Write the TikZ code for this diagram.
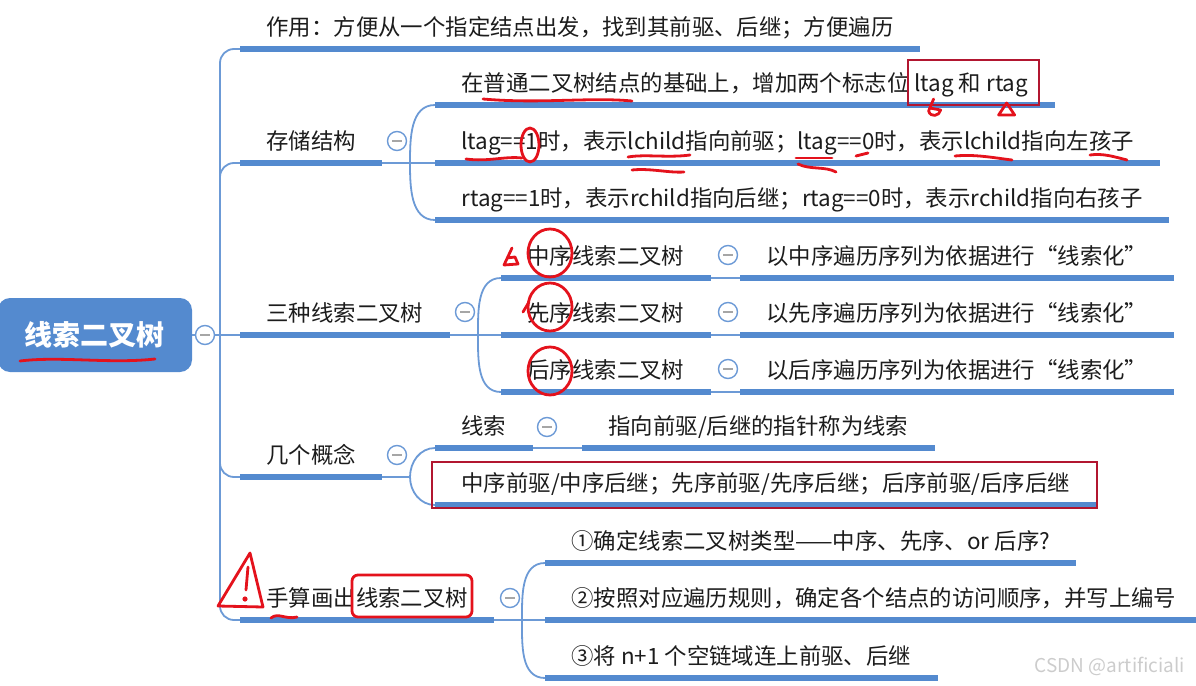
\documentclass[tikz,border=0pt]{standalone}
\usepackage{fontspec}
\setmainfont{Noto Sans CJK SC}
\usetikzlibrary{calc,positioning}
\definecolor{mmblue}{RGB}{84,138,207}
\definecolor{linkblue}{RGB}{108,154,214}
\definecolor{pen}{RGB}{228,18,28}
\definecolor{boxred}{RGB}{178,22,48}
\definecolor{txt}{RGB}{28,28,28}
\newcommand\mmsize{\fontsize{11.2pt}{14pt}\selectfont}

\begin{document}
\begin{tikzpicture}[x=0.5pt,y=-0.5pt,
  topic/.style={anchor=south west,inner xsep=13pt,inner ysep=4pt,text height=9pt,text depth=2.5pt,font=\mmsize,text=txt},
  bar/.style={mmblue,line width=3pt},
  link/.style={linkblue,line width=0.9pt},
  fold/.style={circle,draw=linkblue,line width=0.7pt,fill=white,minimum size=9.5pt,inner sep=0pt,
    path picture={\draw[gray!70,line width=0.8pt]
      ([xshift=-2.3pt]path picture bounding box.center) -- ([xshift=2.3pt]path picture bounding box.center);}},
  scrawl/.style={pen,line width=1.4pt,line cap=round,line join=round}]
  \useasboundingbox (0,0) rectangle (1196,686);

  % root and first level
  \node[fill=mmblue,rounded corners=6pt,minimum width=97pt,minimum height=37pt,text=white,
        font=\fontsize{14pt}{16pt}\selectfont\bfseries] (root) at (95,335) {线索二叉树};
  \node[fold] (c0) at (205,335) {};
  \coordinate (j0) at (220,335);
  \draw[link] (root.east) -- (c0.west);
  \draw[link] (c0.east) -- (j0);

  \node[topic] (use)   at (240,49)  {作用：方便从一个指定结点出发，找到其前驱、后继；方便遍历};
  \node[topic] (store) at (240,163) {存储结构};
  \node[topic] (kinds) at (240,335) {三种线索二叉树};
  \node[topic] (ideas) at (240,477) {几个概念};
  \node[topic] (hand)  at (240,620) {手算画出线索二叉树};
  \foreach \b in {use,store,ideas,hand}
    \draw[link,rounded corners=7pt] (j0) |- (\b.south west);
  \draw[link] (j0) -- (kinds.south west);

  \node[fold] (c1) at (397,141) {};
  \node[fold] (c2) at (465,312) {};
  \node[fold] (c3) at (397,455) {};
  \node[fold] (c4) at (510,598) {};

  % storage
  \coordinate (f1) at (410,163);
  \draw[link] (store.south east) -- (f1);
  \node[topic] (s1) at (435,105) {在普通二叉树结点的基础上，增加两个标志位 ltag 和 rtag};
  \node[topic] (s2) at (435,163) {ltag==1时，表示lchild指向前驱；ltag==0时，表示lchild指向左孩子};
  \node[topic] (s3) at (435,220) {rtag==1时，表示rchild指向后继；rtag==0时，表示rchild指向右孩子};
  \draw[link] (f1) to[out=90,in=180] (s1.south west);
  \draw[link] (f1) -- (s2.south west);
  \draw[link] (f1) to[out=-90,in=180] (s3.south west);

  % three kinds
  \coordinate (f2) at (478,335);
  \draw[link] (kinds.south east) -- (f2);
  \foreach \n/\w/\y in {1/中/278,2/先/335,3/后/392}{
    \node[topic] (k\n) at (501,\y) {\w{}序线索二叉树};
    \node[topic] (kd\n) at (740,\y) {以\w{}序遍历序列为依据进行“线索化”};
    \node[fold] (ck\n) at (728,\y-23) {};
    \draw[link] (k\n.south east) -- (kd\n.south west);
  }
  \draw[link] (f2) to[out=90,in=180] (k1.south west);
  \draw[link] (f2) -- (k2.south west);
  \draw[link] (f2) to[out=-90,in=180] (k3.south west);

  % concepts
  \coordinate (f3) at (410,477);
  \draw[link] (ideas.south east) -- (f3);
  \node[topic] (i1) at (435,448) {线索};
  \node[fold] (ci1) at (547,427) {};
  \node[topic] (i1d) at (582,448) {指向前驱/后继的指针称为线索};
  \node[topic] (i2) at (435,505) {中序前驱/中序后继；先序前驱/先序后继；后序前驱/后序后继};
  \draw[link] (i1.south east) -- (i1d.south west);
  \draw[link] (f3) to[out=90,in=180] (i1.south west);
  \draw[link] (f3) to[out=-90,in=180] (i2.south west);

  % by hand
  \coordinate (f4) at (522,620);
  \draw[link] (hand.south east) -- (f4);
  \node[topic] (h1) at (545,563) {①确定线索二叉树类型——中序、先序、or 后序?};
  \node[topic] (h2) at (545,620) {②按照对应遍历规则，确定各个结点的访问顺序，并写上编号};
  \node[topic] (h3) at (545,678) {③将 n+1 个空链域连上前驱、后继};
  \draw[link] (f4) to[out=90,in=180] (h1.south west);
  \draw[link] (f4) -- (h2.south west);
  \draw[link] (f4) to[out=-90,in=180] (h3.south west);

  \foreach \n in {use,store,kinds,ideas,hand,s1,s2,s3,k1,k2,k3,kd1,kd2,kd3,i1,i1d,i2,h1,h2,h3}
    \draw[bar] (\n.south west) -- (\n.south east);

  \node[text=gray!40,font=\fontsize{9.5pt}{11pt}\selectfont,anchor=east] (mark) at (1192,666) {CSDN @artificiali};

  % red pen marks
  \draw[scrawl] (20,361) .. controls (60,356) and (110,364) .. (155,359);
  \draw[boxred,line width=1.1pt] ($(s1.south east)+(-147,-45)$) rectangle ($(s1.south east)+(-16,0)$);
  \draw[scrawl] ($(s1.south east)+(-121,-6)$) -- ++(-5,12) .. controls +(2,7) and +(-1,6) .. ++(12,-1) -- ++(-11,-2);
  \draw[scrawl] ($(s1.south east)+(-56,10)$) -- ++(8,-12) -- ++(8,12) -- cycle;
  \draw[scrawl] (483,99) .. controls (540,104) and (590,97) .. (632,101);
  \draw[scrawl] (466,159) .. controls (488,162) and (505,156) .. (522,158);
  \draw[scrawl] (530,145) ellipse [x radius=4.5pt,y radius=8.5pt];
  \draw[scrawl] (628,157) .. controls (645,154) and (668,158) .. (690,155);
  \draw[scrawl] (632,170) .. controls (650,168) and (668,173) .. (684,172);
  \draw[scrawl] (796,158) -- (832,158);
  \draw[scrawl] (798,164) .. controls (810,170) and (825,166) .. (836,172);
  \draw[scrawl] (856,156) -- (868,153);
  \draw[scrawl] (955,156) .. controls (975,154) and (995,158) .. (1012,160);
  \draw[scrawl] (1090,155) .. controls (1103,153) and (1115,157) .. (1127,160);
  \draw[scrawl] (512,248) -- (504,265) -- (518,264) -- (515,257) -- (507,258);
  \foreach \y in {253,307,371}
    \draw[scrawl] (550,\y) ellipse [x radius=11pt,y radius=12pt];
  \draw[scrawl] (523,312) -- (529,302);
  \draw[boxred,line width=1.1pt] (432,462) rectangle (1097,508);
  \draw[scrawl] (218,606) -- (250,553) -- (263,607) -- cycle;
  \draw[scrawl] (248,567) -- (246,590);
  \fill[pen] (245,599) circle (1.3pt);
  \draw[scrawl] (271,618) .. controls (278,612) and (286,620) .. (297,617);
  \draw[scrawl,rounded corners=3pt] (352,575) rectangle (472,617);
\end{tikzpicture}
\end{document}
